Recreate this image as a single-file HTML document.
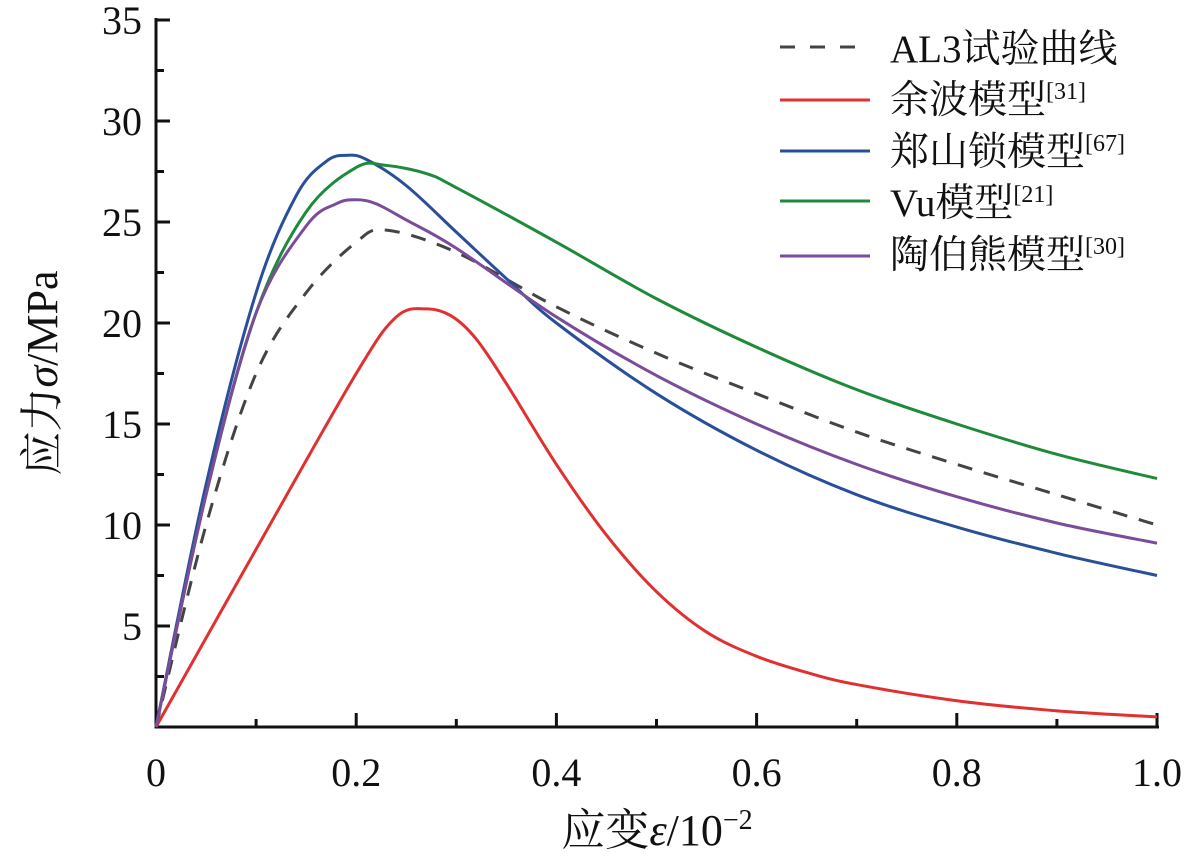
<!DOCTYPE html>
<html><head><meta charset="utf-8"><style>
html,body{margin:0;padding:0;background:#fff;}
svg{display:block;font-family:"Liberation Serif","Noto Serif CJK SC",serif;}
</style></head><body>
<svg id="s" width="1187" height="860" viewBox="0 0 1187 860" xmlns="http://www.w3.org/2000/svg">
<g id="ax" stroke="#111" stroke-width="3" fill="none">
<line x1="156" y1="18" x2="156" y2="728.5"/>
<line x1="154.5" y1="727" x2="1159" y2="727"/>
</g>
<g id="lbl" font-size="40" fill="#111"></g>
<text x="57" y="373" font-size="44" fill="#111" text-anchor="middle" transform="rotate(-90 57 373)">应力<tspan font-style="italic">σ</tspan>/MPa</text>
<text x="657" y="845" font-size="44" fill="#111" text-anchor="middle">应变<tspan font-style="italic">ε</tspan>/10<tspan dy="-16" font-size="28">−2</tspan></text>
<g id="curves" fill="none" stroke-width="3"></g>
<g font-size="39" fill="#111">
<line x1="780" y1="47" x2="870" y2="47" stroke="#444" stroke-width="3" stroke-dasharray="15,15"/>
<line x1="780" y1="100" x2="870" y2="100" stroke="#e03030" stroke-width="3"/>
<line x1="780" y1="151" x2="870" y2="151" stroke="#2a4f9a" stroke-width="3"/>
<line x1="780" y1="201" x2="870" y2="201" stroke="#1f8a3a" stroke-width="3"/>
<line x1="780" y1="256" x2="870" y2="256" stroke="#7a4c9a" stroke-width="3"/>
<text x="890" y="62">AL3试验曲线</text>
<text x="890" y="113">余波模型<tspan font-size="24" dy="-14">[31]</tspan></text>
<text x="890" y="165">郑山锁模型<tspan font-size="24" dy="-14">[67]</tspan></text>
<text x="890" y="216">Vu模型<tspan font-size="24" dy="-14">[21]</tspan></text>
<text x="890" y="268">陶伯熊模型<tspan font-size="24" dy="-14">[30]</tspan></text>
</g>
</svg>
<script>
var NS="http://www.w3.org/2000/svg";
function X(x){return 156+1001*x;}function Y(y){return 727-20.2*y;}
var ax=document.getElementById('ax'),lbl=document.getElementById('lbl');
function L(x1,y1,x2,y2){var l=document.createElementNS(NS,'line');l.setAttribute('x1',x1);l.setAttribute('y1',y1);l.setAttribute('x2',x2);l.setAttribute('y2',y2);ax.appendChild(l);}
function T(x,y,t,a){var e=document.createElementNS(NS,'text');e.setAttribute('x',x);e.setAttribute('y',y);e.setAttribute('text-anchor',a);e.textContent=t;lbl.appendChild(e);}
for(var i=1;i<=10;i++){var x=X(i/10);L(x,727,x,727-(i%2==0?14:8));}
for(var i=1;i<=14;i++){var y=Y(i*2.5);L(156,y,156+(i%2==0?14:8),y);}
for(var i=1;i<=7;i++){T(142,Y(i*5)+14,String(i*5),'end');}
["0","0.2","0.4","0.6","0.8","1.0"].forEach(function(t,i){T(X(i*0.2),786,t,'middle');});
var D={
"#444":[[0,0],[0.05,10],[0.1,17.5],[0.15,21.5],[0.2,24],[0.23,24.6],[0.3,23.5],[0.4,20.8],[0.5,18.5],[0.6,16.5],[0.7,14.6],[0.8,13],[0.9,11.5],[1,10]],
"#e03030":[[0,0],[0.1,8.8],[0.2,17.5],[0.24,20.3],[0.27,20.7],[0.295,20.35],[0.32,19.2],[0.35,17],[0.4,13],[0.45,9.5],[0.5,6.7],[0.55,4.7],[0.6,3.5],[0.65,2.7],[0.7,2.1],[0.8,1.3],[0.9,0.8],[1,0.5]],
"#2a4f9a":[[0,0],[0.05,12],[0.1,21.5],[0.14,26.3],[0.17,28],[0.19,28.3],[0.21,28.1],[0.25,26.8],[0.3,24.5],[0.35,22.2],[0.4,20],[0.5,16.5],[0.6,13.7],[0.7,11.5],[0.8,9.9],[0.9,8.6],[1,7.5]],
"#1f8a3a":[[0,0],[0.05,11.5],[0.1,20.5],[0.15,25.5],[0.2,27.7],[0.23,27.8],[0.27,27.4],[0.3,26.7],[0.4,24],[0.5,21.2],[0.6,18.8],[0.7,16.7],[0.8,15],[0.9,13.5],[1,12.3]],
"#7a4c9a":[[0,0],[0.05,11.5],[0.1,20.5],[0.15,24.8],[0.18,25.9],[0.2,26.1],[0.22,25.9],[0.25,25.1],[0.3,23.7],[0.4,20.3],[0.5,17.4],[0.6,15],[0.7,13],[0.8,11.4],[0.9,10.1],[1,9.1]]};
var cv=document.getElementById('curves');
for(var c in D){var p=D[c].map(function(q){return [X(q[0]),Y(q[1])];});var d="M"+p[0][0]+","+p[0][1];
for(var i=0;i<p.length-1;i++){var p0=p[Math.max(0,i-1)],p1=p[i],p2=p[i+1],p3=p[Math.min(p.length-1,i+2)];
d+=" C"+(p1[0]+(p2[0]-p0[0])/6)+","+(p1[1]+(p2[1]-p0[1])/6)+" "+(p2[0]-(p3[0]-p1[0])/6)+","+(p2[1]-(p3[1]-p1[1])/6)+" "+p2[0]+","+p2[1];}
var e=document.createElementNS(NS,'path');e.setAttribute('d',d);e.setAttribute('stroke',c);if(c=="#444")e.setAttribute('stroke-dasharray','15,12');cv.appendChild(e);}
</script>
</body></html>
